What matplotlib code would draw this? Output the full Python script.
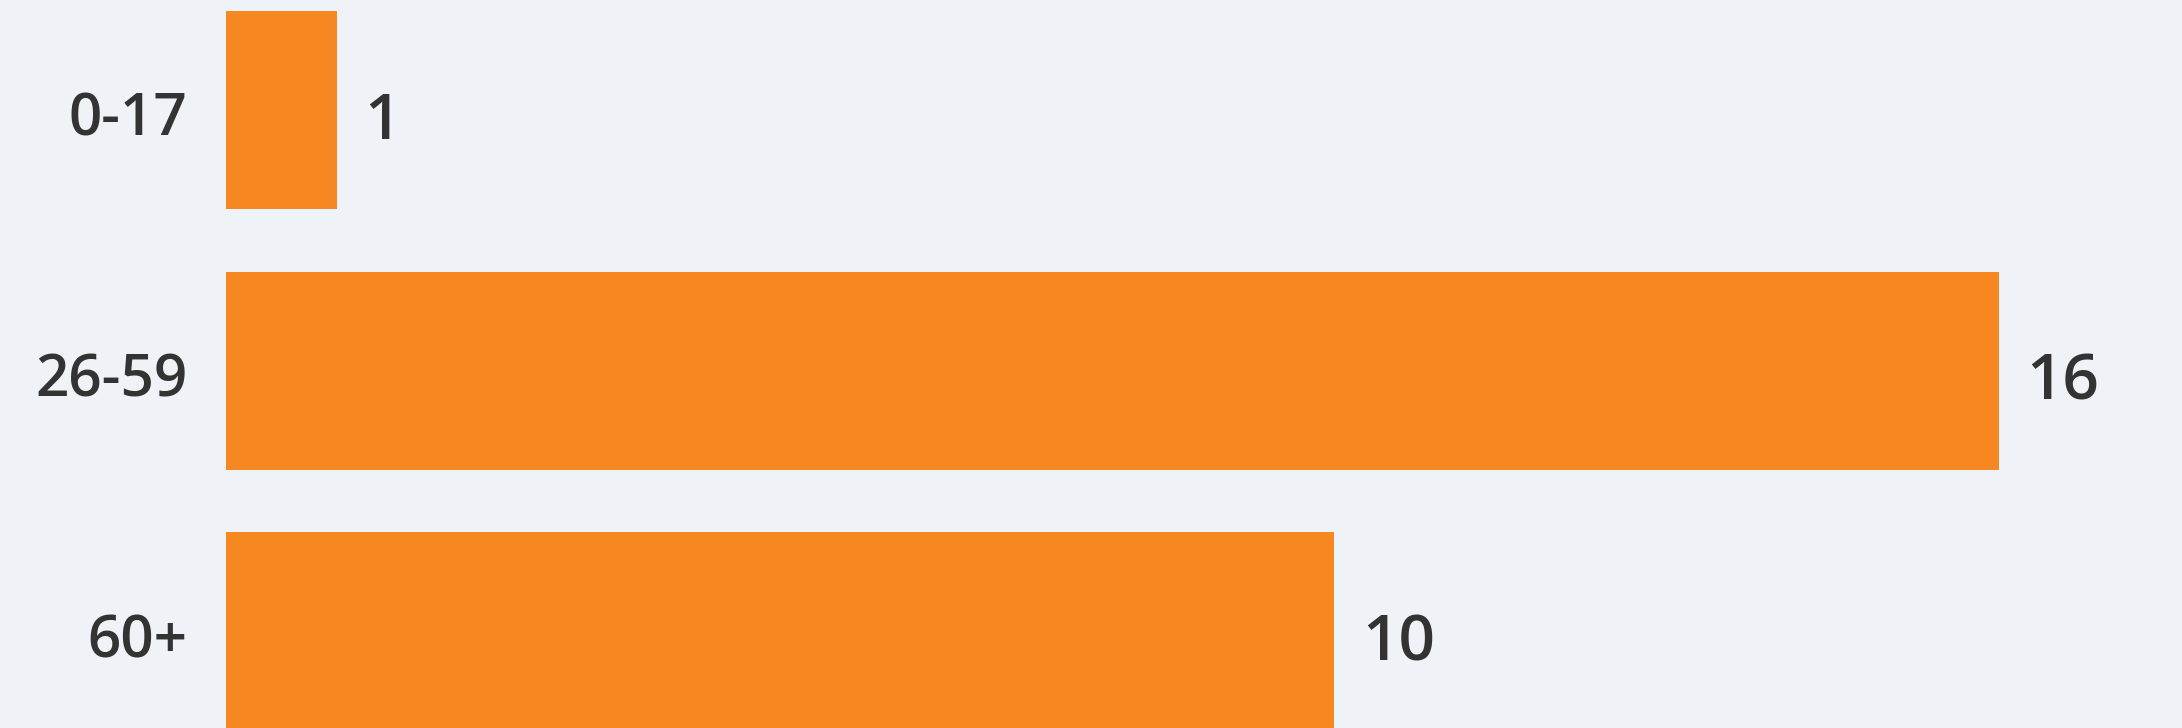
import matplotlib
matplotlib.use('Agg')
import matplotlib.pyplot as plt
import matplotlib.transforms as mtransforms

groups = ['0-17', '26-59', '60+']
counts = [1, 16, 10]

bg = '#eff2f7'
bar_color = '#f68721'
text_color = '#333333'

plt.rcParams['font.family'] = ['Open Sans', 'DejaVu Sans']

fig = plt.figure(figsize=(21.82, 7.28), dpi=100, facecolor=bg)
ax = fig.add_axes([0, 0, 1, 1], facecolor=bg)

ax.barh(range(len(groups)), counts, height=0.76, color=bar_color)

ax.set_xlim(-226 / 110.8, (2182 - 226) / 110.8)
ax.set_ylim(2.372, -0.422)

ax.set_yticks(range(len(groups)))
ax.set_yticklabels(groups, fontsize=42, color=text_color, fontweight='semibold')
ax.tick_params(axis='y', length=0, pad=-135)
# nudge tick labels down a little
shift = mtransforms.ScaledTranslation(0, -4 / 100, fig.dpi_scale_trans)
for lbl in ax.get_yticklabels():
    lbl.set_transform(lbl.get_transform() + shift)
ax.set_xticks([])
for s in ax.spines.values():
    s.set_visible(False)

for i, v in enumerate(counts):
    ax.annotate(str(v), (v, i), xytext=(20, -9), textcoords='offset points',
                ha='left', va='center', fontsize=46, color=text_color,
                fontweight='semibold')

fig.savefig('out.png', dpi=100, facecolor=bg)
